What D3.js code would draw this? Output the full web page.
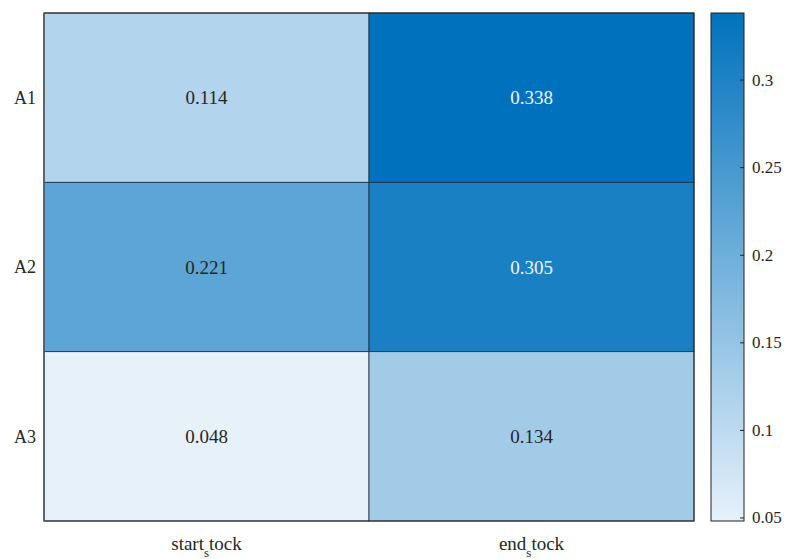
<!DOCTYPE html>
<html><head><meta charset="utf-8">
<script src="https://cdn.jsdelivr.net/npm/d3@7"></script>
<style>body{margin:0;background:#fff}svg{display:block}text{font-family:"Liberation Serif","Times New Roman",serif}</style>
</head><body><svg id="c" width="790" height="559"></svg>
<script>
const rows = ["A1","A2","A3"];
const cols = [["start","s","tock"],["end","s","tock"]];
const values = [[0.114,0.338],[0.221,0.305],[0.048,0.134]];
const cbTicks = [0.05,0.1,0.15,0.2,0.25,0.3];

const svg = d3.select("#c");
const L=44,R=694,T=13,B=521;
const x = d3.scaleBand().domain(d3.range(cols.length)).range([L,R]);
const y = d3.scaleBand().domain(rows).range([T,B]);
const flat = values.flat();
const vmin = d3.min(flat), vmax = d3.max(flat);
const color = d3.scaleLinear().domain([vmin,vmax]).range(["#e6f1fa","#0072bd"]).interpolate(d3.interpolateRgb);

const cells=[];
rows.forEach((r,i)=>values[i].forEach((v,j)=>cells.push({r,j,v})));
svg.selectAll("rect.cell").data(cells).enter().append("rect").attr("class","cell")
 .attr("x",d=>x(d.j)).attr("y",d=>y(d.r)).attr("width",x.bandwidth()).attr("height",y.bandwidth())
 .attr("fill",d=>color(d.v)).attr("stroke","#1a2a3a").attr("stroke-width",0.8);
svg.selectAll("text.val").data(cells).enter().append("text").attr("class","val")
 .attr("x",d=>x(d.j)+x.bandwidth()/2).attr("y",d=>y(d.r)+y.bandwidth()/2)
 .attr("dy","0.35em").attr("text-anchor","middle").attr("font-size",19)
 .attr("fill",d=>d.v>0.27?"#f2f2f2":"#262626").text(d=>d.v.toFixed(3));
svg.append("rect").attr("x",L).attr("y",T).attr("width",R-L).attr("height",B-T).attr("fill","none").attr("stroke","#222").attr("stroke-width",1);
svg.append("line").attr("x1",L).attr("x2",L).attr("y1",T).attr("y2",B).attr("stroke","#666").attr("stroke-width",1.5);

// row labels
svg.selectAll("text.row").data(rows).enter().append("text").attr("class","row")
 .attr("x",L-8).attr("y",d=>y(d)+y.bandwidth()/2).attr("dy","0.35em").attr("text-anchor","end")
 .attr("font-size",18).attr("fill","#262626").text(d=>d);
// column labels with subscript
cols.forEach((c,j)=>{
  const t=svg.append("text").attr("x",x(j)+x.bandwidth()/2).attr("y",550).attr("text-anchor","middle")
   .attr("font-size",19).attr("fill","#262626");
  t.append("tspan").text(c[0]);
  t.append("tspan").attr("dy",7).attr("font-size",13).text(c[1]);
  t.append("tspan").attr("dy",-7).text(c[2]);
});

// colorbar
const cx0=711,cx1=744;
const cy = d3.scaleLinear().domain([vmin,vmax]).range([B,T]);
const defs=svg.append("defs");
const g=defs.append("linearGradient").attr("id","cb").attr("x1",0).attr("y1",1).attr("x2",0).attr("y2",0);
d3.range(0,1.0001,0.1).forEach(s=>g.append("stop").attr("offset",s).attr("stop-color",color(vmin+s*(vmax-vmin))));
svg.append("rect").attr("x",cx0).attr("y",T).attr("width",cx1-cx0).attr("height",B-T).attr("fill","url(#cb)").attr("stroke","#222").attr("stroke-width",1);
const ax = d3.axisRight(cy).tickValues(cbTicks).tickSize(-4).tickPadding(8).tickFormat(d3.format("~g"));
const ag=svg.append("g").attr("transform",`translate(${cx1},0)`).call(ax);
ag.select(".domain").remove();
ag.selectAll(".tick line").attr("stroke","#222");
ag.selectAll(".tick text").attr("font-family","Liberation Serif").attr("font-size",17).attr("fill","#262626");
</script></body></html>
